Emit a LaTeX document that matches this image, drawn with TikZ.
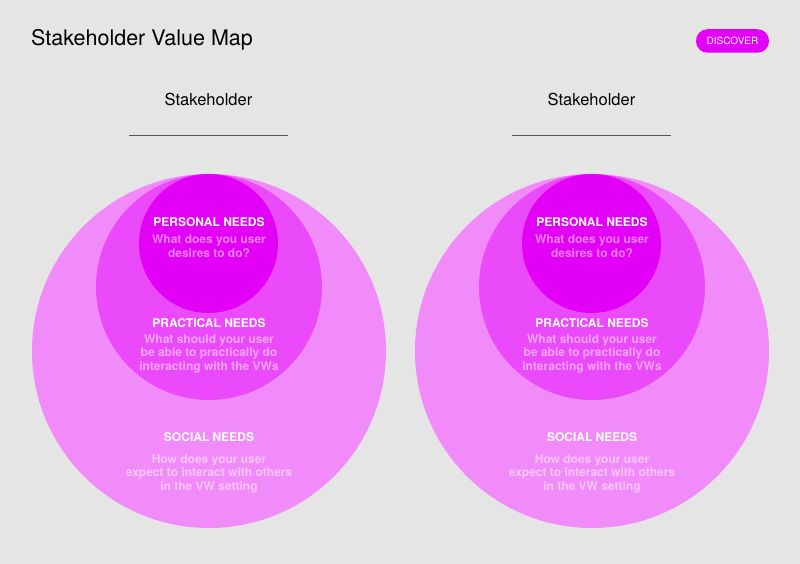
\documentclass[tikz,border=0pt]{standalone}
\usepackage{fontspec}
\setmainfont{TeX Gyre Heros}
\definecolor{bg}{HTML}{E5E5E5}
\definecolor{outerc}{HTML}{F28BFA}
\definecolor{midc}{HTML}{EB4AFA}
\definecolor{innerc}{HTML}{E200F6}
\definecolor{rulec}{HTML}{555555}
\begin{document}
\begin{tikzpicture}[x=1pt,y=-1pt,
  hd/.style={text=white, font=\bfseries\fontsize{12}{13.3}\selectfont, anchor=base, inner sep=0pt},
  desc/.style={text=white, text opacity=0.5, font=\bfseries\fontsize{12}{13.3}\selectfont, align=center, anchor=base, inner sep=0pt},
  stk/.style={font=\fontsize{16.5}{19}\selectfont, anchor=base, inner sep=0pt},
  ring/.style={circle, inner sep=0pt, minimum size=#1}
]
\useasboundingbox (0,0) rectangle (800,564);
\fill[bg] (0,0) rectangle (800,564);

\node[anchor=base west, inner sep=0pt, font=\fontsize{21.5}{24}\selectfont] (title) at (31,46) {Stakeholder Value Map};
\node[fill=innerc, rounded corners=11.5pt, minimum width=73pt, minimum height=23.5pt, inner sep=0pt,
      text=white, font=\fontsize{10}{12}\selectfont] (disc) at (732.5,41) {DISCOVER};

\foreach \dx/\s in {0/L,383/R}{
  \begin{scope}[xshift=\dx pt]
    \node[stk] (stk\s) at (208.5,106) {Stakeholder};
    \coordinate (la\s) at (129,135.3);
    \coordinate (lb\s) at (288,135.3);
    \draw[rulec, line width=0.9pt] (la\s) -- (lb\s);
    \node[ring=354pt, fill=outerc] (outer\s) at (209,351) {};
    \node[ring=226pt, fill=midc] (mid\s) at (209,287) {};
    \node[ring=139pt, fill=innerc] (inner\s) at (208.5,243.5) {};
    \node[hd] (ph\s) at (209,226) {PERSONAL NEEDS};
    \node[desc] (pd\s) at (209,257) {What does you user\\desires to do?};
    \node[hd] (qh\s) at (209,327) {PRACTICAL NEEDS};
    \node[desc] (qd\s) at (209,370) {What should your user\\be able to practically do\\interacting with the VWs};
    \node[hd] (sh\s) at (209,441) {SOCIAL NEEDS};
    \node[desc] (sd\s) at (209,490) {How does your user\\expect to interact with others\\in the VW setting};
  \end{scope}
}
\end{tikzpicture}
\end{document}
